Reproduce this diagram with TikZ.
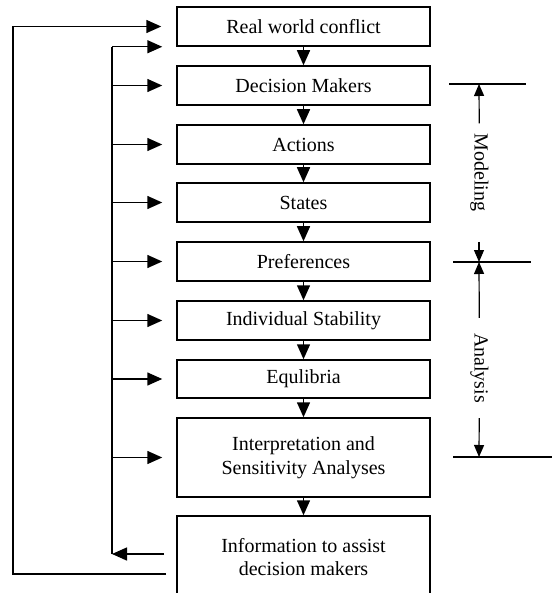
\documentclass[tikz,border=0pt]{standalone}
\usepackage{fontspec}
\setmainfont{Liberation Serif}
\usetikzlibrary{arrows.meta}

\begin{document}
\begin{tikzpicture}[x=1pt,y=-1pt]
    \useasboundingbox (0,0) rectangle (552,593);

    % Define styles for shapes
    \tikzstyle{box} = [draw, line width=1.5pt, minimum width=253pt, minimum height=39pt, inner sep=0pt, align=center, font=\fontsize{20}{23.5}\selectfont]
    \tikzstyle{flow} = [-{Triangle[length=15pt,width=13pt]}, line width=1.5pt]
    \tikzstyle{dimline} = [line width=1.2pt]
    \tikzstyle{dimarrow} = [-{Triangle[length=12pt,width=10pt]}, line width=1.2pt]
    \tikzstyle{phase} = [rotate=-90, inner ysep=0pt, font=\fontsize{20}{23.5}\selectfont]

    % Draw the boxes of the procedure
    \node[box] (conflict) at (303.5,26.5) {Real world conflict};
    \node[box] (makers) at (303.5,85.5) {Decision Makers};
    \node[box] (actions) at (303.5,144.5) {Actions};
    \node[box] (states) at (303.5,202.5) {States};
    \node[box] (prefs) at (303.5,261.5) {Preferences};
    \node[box] (stability) at (303.5,320.5) {Individual Stability};
    \node[box, minimum height=38pt] (equil) at (303.5,379) {Equlibria};
    \node[box, minimum height=79pt] (interp) at (303.5,457.5) {Interpretation and\\Sensitivity Analyses};
    \node[box, minimum height=82pt] (info) at (303.5,557) {Information to assist\\decision makers};

    % Draw the arrows between the boxes
    \foreach \a/\b in {conflict/makers, makers/actions, actions/states, states/prefs, prefs/stability, stability/equil, equil/interp, interp/info}
        \draw[flow] (\a) -- (\b);

    % Feedback lines on the left
    \coordinate (inner) at (112,0);
    \coordinate (outer) at (13,0);
    \coordinate (back1) at (164,554);
    \coordinate (back2) at (166,574);

    \draw[flow] (back1) -- (inner |- back1);
    \draw[line width=1.5pt] (inner |- back1) -- (inner |- conflict.south west);
    \draw[flow, shorten >=14pt] (inner |- conflict.south west) -- (conflict.south west);
    \foreach \n in {makers, actions, states, prefs, stability, equil, interp}
        \draw[flow, shorten >=14pt] (inner |- \n.west) -- (\n.west);
    \draw[flow, shorten >=15pt] (back2) -- (outer |- back2) -- (outer |- conflict.west) -- (conflict.west);

    % Modeling and analysis phases on the right
    \coordinate (mtop) at (479,84);
    \coordinate (mstub) at (479,242);
    \coordinate (mid) at (479,262);
    \coordinate (abot) at (479,457);

    \draw[dimline] (449,84) -- (526,84);
    \draw[dimline] (453,262) -- (531,262);
    \draw[dimline] (453,457) -- (552,457);

    \node[phase, inner xsep=10pt] (modeling) at (479.5,172.5) {Modeling};
    \node[phase, inner xsep=15pt] (analysis) at (479.5,368) {Analysis};

    \draw[dimarrow] (modeling) -- (mtop);
    \draw[dimarrow] (mstub) -- (mid);
    \draw[dimarrow] (analysis) -- (mid);
    \draw[dimarrow] (analysis) -- (abot);

\end{tikzpicture}
\end{document}
